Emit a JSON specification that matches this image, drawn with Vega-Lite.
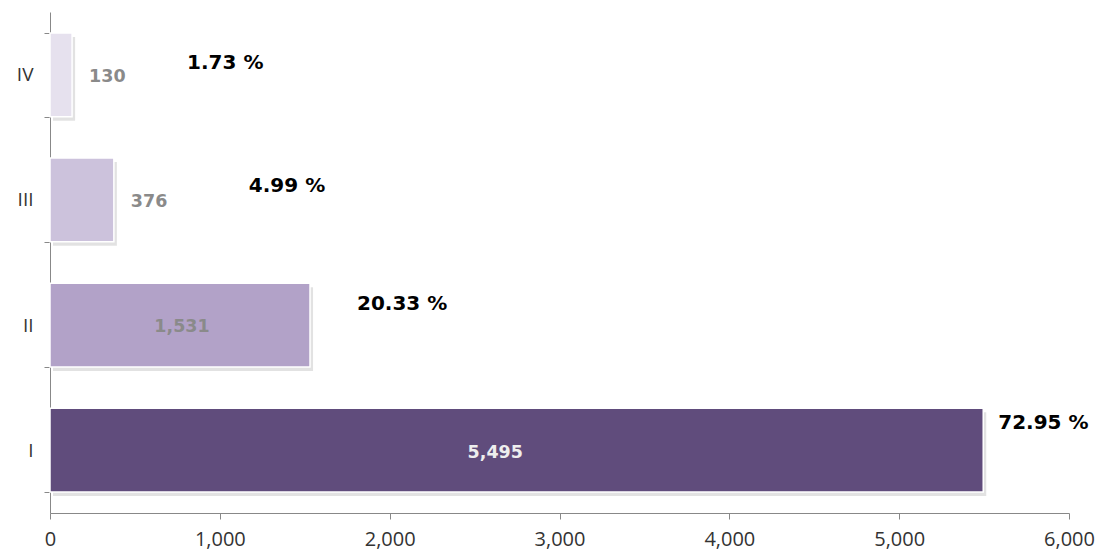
{
  "$schema": "https://vega.github.io/schema/vega-lite/v6.json",
  "width": 1019,
  "height": 501,
  "autosize": {"type": "none"},
  "padding": {"left": 50, "top": 12, "right": 34, "bottom": 41},
  "background": "white",
  "config": {
    "view": {"stroke": null},
    "font": "Open Sans",
    "axis": {"domainColor": "#888888", "tickColor": "#888888", "tickSize": 6, "labelFontSize": 20, "labelColor": "#333333", "labelFont": "Open Sans", "labelFontWeight": "normal"}
  },
  "data": {
    "values": [
      {"cat": "I", "value": 5495, "pct": "72.95 %"},
      {"cat": "II", "value": 1531, "pct": "20.33 %"},
      {"cat": "III", "value": 376, "pct": "4.99 %"},
      {"cat": "IV", "value": 130, "pct": "1.73 %"}
    ]
  },
  "encoding": {
    "y": {
      "field": "cat", "type": "nominal", "sort": ["IV", "III", "II", "I"],
      "scale": {"paddingInner": 0.33, "paddingOuter": 0.167},
      "axis": {"title": null, "tickBand": "extent", "labelFontSize": 19, "labelColor": "#333333", "labelPadding": 11}
    },
    "x": {
      "field": "value", "type": "quantitative",
      "scale": {"domain": [0, 6000]},
      "axis": {"title": null, "grid": false, "values": [0, 1000, 2000, 3000, 4000, 5000, 6000], "format": ",d", "labelFontSize": 20, "labelColor": "#333333", "labelPadding": 10, "labelFlush": false}
    }
  },
  "layer": [
    {"mark": {"type": "bar", "color": "#9e9e9e", "opacity": 0.3, "xOffset": 3, "yOffset": 4}},
    {
      "mark": {"type": "bar", "stroke": "white", "strokeWidth": 1.5},
      "encoding": {
        "color": {"field": "cat", "type": "nominal", "legend": null,
          "scale": {"domain": ["I", "II", "III", "IV"], "range": ["#604c7c", "#b2a2c8", "#ccc2dc", "#e6e1ee"]}}
      }
    },
    {
      "transform": [{"filter": "datum.cat == 'IV' || datum.cat == 'III'"}],
      "mark": {"type": "text", "align": "left", "baseline": "middle", "dx": 17, "dy": 2, "font": "DejaVu Sans", "fontSize": 17.5, "fontWeight": "bold", "color": "#8a8a8a"},
      "encoding": {"text": {"field": "value", "type": "quantitative", "format": ",d"}}
    },
    {
      "transform": [{"filter": "datum.cat == 'II'"}],
      "mark": {"type": "text", "align": "center", "baseline": "middle", "dx": -128, "dy": 2, "font": "DejaVu Sans", "fontSize": 17.5, "fontWeight": "bold", "color": "#8a8a8a"},
      "encoding": {"text": {"field": "value", "type": "quantitative", "format": ",d"}}
    },
    {
      "transform": [{"filter": "datum.cat == 'I'"}],
      "mark": {"type": "text", "align": "center", "baseline": "middle", "dx": -488, "dy": 3, "font": "DejaVu Sans", "fontSize": 17.5, "fontWeight": "bold", "color": "#eeeeee"},
      "encoding": {"text": {"field": "value", "type": "quantitative", "format": ",d"}}
    },
    {
      "transform": [{"filter": "datum.cat == 'IV'"}],
      "mark": {"type": "text", "align": "left", "baseline": "middle", "dx": 115, "dy": -12, "font": "DejaVu Sans", "fontSize": 20, "fontWeight": "bold", "color": "#000000"},
      "encoding": {"text": {"field": "pct"}}
    },
    {
      "transform": [{"filter": "datum.cat == 'III'"}],
      "mark": {"type": "text", "align": "left", "baseline": "middle", "dx": 135, "dy": -14, "font": "DejaVu Sans", "fontSize": 20, "fontWeight": "bold", "color": "#000000"},
      "encoding": {"text": {"field": "pct"}}
    },
    {
      "transform": [{"filter": "datum.cat == 'II'"}],
      "mark": {"type": "text", "align": "left", "baseline": "middle", "dx": 47, "dy": -21, "font": "DejaVu Sans", "fontSize": 20, "fontWeight": "bold", "color": "#000000"},
      "encoding": {"text": {"field": "pct"}}
    },
    {
      "transform": [{"filter": "datum.cat == 'I'"}],
      "mark": {"type": "text", "align": "left", "baseline": "middle", "dx": 15, "dy": -27, "font": "DejaVu Sans", "fontSize": 20, "fontWeight": "bold", "color": "#000000"},
      "encoding": {"text": {"field": "pct"}}
    }
  ]
}
